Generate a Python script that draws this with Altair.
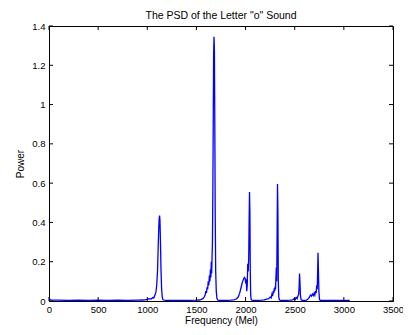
import altair as alt
import pandas as pd

# ---- data (frequency in Mel, power) ----
seg0_f = [0, 15, 40, 100, 200, 300, 400, 500, 600, 700, 800, 900, 960]
seg0_p = [0.015, 0.006, 0.004, 0.004, 0.003, 0.004, 0.003, 0.004, 0.003, 0.004, 0.003, 0.004, 0.005]

seg1_f = [1000, 1020, 1040, 1055, 1066, 1078, 1088, 1096, 1104, 1110, 1116, 1121, 1125,
          1129, 1134, 1140, 1146, 1152, 1160, 1175, 1200, 1300, 1400]
seg1_p = [0.008, 0.012, 0.010, 0.018, 0.015, 0.030, 0.045, 0.080, 0.150, 0.260, 0.360, 0.420, 0.435,
          0.410, 0.300, 0.150, 0.060, 0.020, 0.006, 0.004, 0.003, 0.003, 0.003]

seg2_f = [1500, 1530, 1550, 1565, 1578, 1588, 1596, 1602, 1608, 1614, 1620, 1626, 1632, 1637,
          1642, 1647, 1651, 1655, 1659, 1663, 1667, 1671, 1675, 1679, 1683, 1687, 1691, 1696,
          1702, 1708, 1716, 1730, 1800]
seg2_p = [0.004, 0.005, 0.008, 0.012, 0.020, 0.030, 0.050, 0.040, 0.070, 0.060, 0.100, 0.080, 0.130, 0.100,
          0.160, 0.120, 0.200, 0.140, 0.220, 0.300, 0.550, 0.900, 1.250, 1.345, 1.280, 0.900, 0.450, 0.150,
          0.050, 0.015, 0.005, 0.003, 0.003]

seg3_f = [1850, 1880, 1905, 1925, 1940, 1955, 1967, 1978, 1988, 1996, 2002, 2007, 2012, 2017,
          2022, 2027, 2032, 2036, 2040, 2044, 2048, 2052, 2057, 2065, 2080, 2120]
seg3_p = [0.004, 0.006, 0.010, 0.020, 0.040, 0.070, 0.095, 0.110, 0.120, 0.115, 0.090, 0.110, 0.050, 0.080,
          0.190, 0.150, 0.220, 0.400, 0.555, 0.450, 0.150, 0.030, 0.008, 0.004, 0.003, 0.003]

seg4_f = [2160, 2190, 2215, 2235, 2250, 2260, 2268, 2275, 2281, 2287, 2292, 2297, 2301, 2305,
          2309, 2313, 2317, 2321, 2325, 2329, 2333, 2338, 2345, 2360, 2400]
seg4_p = [0.004, 0.006, 0.010, 0.012, 0.020, 0.015, 0.035, 0.025, 0.050, 0.040, 0.065, 0.050, 0.075, 0.060,
          0.120, 0.170, 0.100, 0.350, 0.595, 0.450, 0.100, 0.020, 0.005, 0.003, 0.003]

seg5_f = [2450, 2480, 2495, 2505, 2515, 2525, 2533, 2540, 2545, 2549, 2553, 2558, 2565, 2580]
seg5_p = [0.004, 0.006, 0.012, 0.008, 0.018, 0.012, 0.025, 0.035, 0.070, 0.140, 0.100, 0.030, 0.006, 0.003]

seg6_f = [2600, 2620, 2635, 2648, 2660, 2670, 2680, 2690, 2698, 2705, 2712, 2718, 2724, 2729,
          2733, 2737, 2741, 2746, 2752, 2760, 2800, 2900, 3000, 3060]
seg6_p = [0.003, 0.005, 0.010, 0.018, 0.030, 0.025, 0.035, 0.028, 0.040, 0.030, 0.050, 0.040, 0.080, 0.060,
          0.140, 0.245, 0.160, 0.050, 0.008, 0.003, 0.003, 0.003, 0.003, 0.003]

x_ticks = [0, 500, 1000, 1500, 2000, 2500, 3000, 3500]
y_ticks = [0, 0.2, 0.4, 0.6, 0.8, 1.0, 1.2, 1.4]

freq = seg0_f + seg1_f + seg2_f + seg3_f + seg4_f + seg5_f + seg6_f
power = seg0_p + seg1_p + seg2_p + seg3_p + seg4_p + seg5_p + seg6_p
assert len(freq) == len(power)

df = pd.DataFrame({"freq": freq, "power": power})
xt = pd.DataFrame({"freq": x_ticks})
yt = pd.DataFrame({"power": y_ticks})

W, H = 344, 275
FONT = "Liberation Sans"
TL = 4

xscale = alt.Scale(domain=[0, 3500], nice=False, zero=False)
yscale = alt.Scale(domain=[0, 1.4], nice=False, zero=False)

xaxis = alt.Axis(values=x_ticks, format="d", title="Frequency (Mel)", tickSize=0, labelPadding=3,
                 titleY=24, titleBaseline="bottom", grid=False, domainColor="black",
                 labelColor="black", titleColor="black", labelFontSize=9.5, titleFontSize=10,
                 titleFontWeight="normal", labelFont=FONT, titleFont=FONT, labelFlush=False)
yaxis = alt.Axis(values=y_ticks, format="~g", title="Power", tickSize=0, labelPadding=4,
                 titlePadding=6, grid=False, domainColor="black", labelColor="black",
                 titleColor="black", labelFontSize=9.5, titleFontSize=10,
                 titleFontWeight="normal", labelFont=FONT, titleFont=FONT, labelFlush=False)

X = alt.X("freq:Q", scale=xscale, axis=xaxis)
Y = alt.Y("power:Q", scale=yscale, axis=yaxis)

line = alt.Chart(df).mark_line(color="#0000ff", strokeWidth=1.3, clip=True).encode(x=X, y=Y)

bottom_ticks = alt.Chart(xt).mark_rule(color="black", strokeWidth=1).encode(
    x=X, y=alt.value(H), y2=alt.value(H - TL))
top_ticks = alt.Chart(xt).mark_rule(color="black", strokeWidth=1).encode(
    x=X, y=alt.value(0), y2=alt.value(TL))
left_ticks = alt.Chart(yt).mark_rule(color="black", strokeWidth=1).encode(
    y=Y, x=alt.value(0), x2=alt.value(TL))
right_ticks = alt.Chart(yt).mark_rule(color="black", strokeWidth=1).encode(
    y=Y, x=alt.value(W), x2=alt.value(W - TL))

chart = alt.layer(line, bottom_ticks, top_ticks, left_ticks, right_ticks).properties(
    width=W, height=H,
    title=alt.TitleParams('The PSD of the Letter "o" Sound', fontSize=10.5, font=FONT,
                          fontWeight="normal", color="black", offset=0),
    autosize=alt.AutoSizeParams(type="none"),
    padding={"left": 41, "top": 18, "right": 10, "bottom": 26},
).configure_view(stroke="black", strokeWidth=1)

chart.save("out.html", embed_options={"renderer": "svg", "actions": False})
